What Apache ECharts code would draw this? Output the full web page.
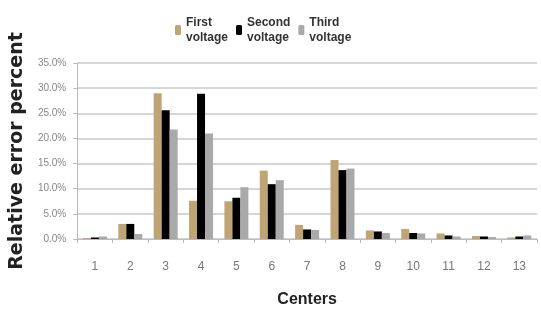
<!DOCTYPE html>
<html>
<head>
<meta charset="utf-8">
<script src="https://cdn.jsdelivr.net/npm/echarts@6/dist/echarts.min.js"></script>
<style>
    html, body { margin: 0; padding: 0; background: #fff; }
    #chart { width: 541px; height: 314px; }
</style>
</head>
<body>
<div id="chart"></div>
<script>
// 数据
var centers = ['1', '2', '3', '4', '5', '6', '7', '8', '9', '10', '11', '12', '13'];
var firstVoltage = [0.2, 3.0, 29.0, 7.6, 7.5, 13.6, 2.8, 15.7, 1.7, 2.0, 1.1, 0.6, 0.3];
var secondVoltage = [0.3, 3.0, 25.6, 28.9, 8.2, 10.9, 1.9, 13.7, 1.5, 1.2, 0.7, 0.5, 0.5];
var thirdVoltage = [0.5, 1.0, 21.8, 21.0, 10.3, 11.7, 1.8, 14.0, 1.2, 1.1, 0.5, 0.4, 0.7];
var seriesNames = ['First voltage', 'Second voltage', 'Third voltage'];

var tickFont = '"Liberation Sans Narrow", "Liberation Sans", sans-serif';

var option = {
    animation: false,
    color: ['#bfa574', '#000000', '#a9a9a9'],
    legend: {
        top: 10,
        left: 170,
        itemWidth: 6,
        itemHeight: 10,
        itemGap: 8,
        data: seriesNames,
        formatter: function (name) {
            return name.replace(' ', '\n');
        },
        textStyle: {
            fontFamily: tickFont,
            fontWeight: 'bold',
            fontSize: 12,
            lineHeight: 15,
            color: '#333'
        }
    },
    grid: {
        left: 69,
        right: 4,
        top: 63,
        bottom: 75
    },
    xAxis: {
        type: 'category',
        data: centers,
        name: 'Centers',
        nameLocation: 'middle',
        nameGap: 53,
        nameTextStyle: {
            fontFamily: tickFont,
            fontWeight: 'bold',
            fontSize: 16,
            color: '#222'
        },
        axisLine: { lineStyle: { color: '#bbb', width: 1 } },
        axisTick: { show: true, length: 4, lineStyle: { color: '#bbb' } },
        axisLabel: {
            margin: 22,
            fontFamily: tickFont,
            fontSize: 12,
            color: '#777'
        }
    },
    yAxis: {
        type: 'value',
        min: 0,
        max: 35,
        interval: 5,
        name: 'Relative error percent',
        nameLocation: 'middle',
        nameGap: 42,
        nameTextStyle: {
            fontFamily: 'DejaVu Sans',
            fontWeight: 'bold',
            fontSize: 19,
            color: '#222'
        },
        axisLine: { show: true, lineStyle: { color: '#bbb', width: 1 } },
        axisTick: { show: true, length: 4, lineStyle: { color: '#bbb' } },
        splitLine: { lineStyle: { color: '#d6d6d6', width: 2 } },
        axisLabel: {
            margin: 11,
            fontFamily: tickFont,
            fontSize: 10,
            color: '#888',
            formatter: function (v) {
                return v.toFixed(1) + '%';
            }
        }
    },
    series: [
        { name: seriesNames[0], type: 'bar', data: firstVoltage, barWidth: 8, barGap: '0%' },
        { name: seriesNames[1], type: 'bar', data: secondVoltage, barWidth: 8, barGap: '0%' },
        { name: seriesNames[2], type: 'bar', data: thirdVoltage, barWidth: 8, barGap: '0%' }
    ]
};

var chart = echarts.init(document.getElementById('chart'));
chart.setOption(option);
</script>
</body>
</html>
